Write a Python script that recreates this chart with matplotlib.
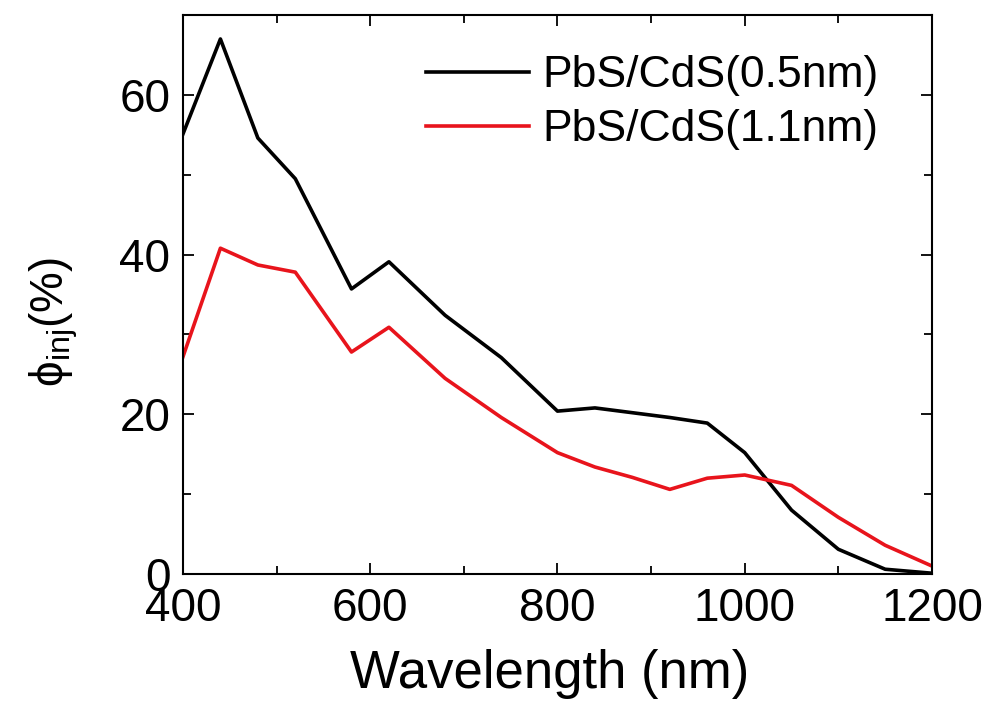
import matplotlib
matplotlib.use('Agg')
import matplotlib.pyplot as plt
from matplotlib.ticker import MultipleLocator

plt.rcParams['font.family'] = ['Liberation Sans', 'DejaVu Sans']
plt.rcParams['mathtext.fontset'] = 'custom'
plt.rcParams['mathtext.rm'] = 'Liberation Sans'
plt.rcParams['mathtext.it'] = 'Liberation Sans'

# wavelength (nm)
wl_05 = [400, 440, 480, 520, 580, 620, 680, 740, 800, 840, 880, 920, 960, 1000, 1050, 1100, 1150, 1200]
phi_05 = [55.1, 67.0, 54.6, 49.5, 35.7, 39.1, 32.4, 27.1, 20.4, 20.8, 20.2, 19.6, 18.9, 15.2, 8.0, 3.1, 0.6, 0.1]

wl_11 = [400, 440, 480, 520, 580, 620, 680, 740, 800, 840, 880, 920, 960, 1000, 1050, 1100, 1150, 1200]
phi_11 = [27.2, 40.8, 38.7, 37.8, 27.8, 30.9, 24.5, 19.6, 15.2, 13.4, 12.1, 10.6, 12.0, 12.4, 11.1, 7.1, 3.6, 1.0]

labels = ['PbS/CdS(0.5nm)', 'PbS/CdS(1.1nm)']

fig = plt.figure(figsize=(9.9, 7.02), dpi=100)
ax = fig.add_axes([0.1848, 0.1823, 0.7566, 0.7963])

ax.plot(wl_05, phi_05, color='black', lw=2.6, label=labels[0])
ax.plot(wl_11, phi_11, color='#e8141c', lw=2.6, label=labels[1])

ax.set_xlim(400, 1200)
ax.set_ylim(0, 70)
ax.xaxis.set_major_locator(MultipleLocator(200))
ax.xaxis.set_minor_locator(MultipleLocator(100))
ax.yaxis.set_major_locator(MultipleLocator(20))
ax.yaxis.set_minor_locator(MultipleLocator(10))

ax.tick_params(which='both', direction='in', top=True, right=True, width=1.3)
ax.tick_params(which='major', length=8, labelsize=33, pad=9)
ax.tick_params(which='minor', length=6)
for sp in ax.spines.values():
    sp.set_linewidth(1.5)

ax.set_xlabel('Wavelength (nm)', fontsize=38)
ax.set_ylabel(r'$\mathrm{\phi_{inj}}$(%)', fontsize=33)
ax.xaxis.set_label_coords(0.49, -0.135)
ax.yaxis.set_label_coords(-0.137, 0.45)

ax.legend(loc='upper right', bbox_to_anchor=(0.952, 0.96), frameon=False,
          fontsize=32, handlelength=2.3, handletextpad=0.3, labelspacing=0.3,
          borderaxespad=0)

fig.savefig('out.png', dpi=100)
